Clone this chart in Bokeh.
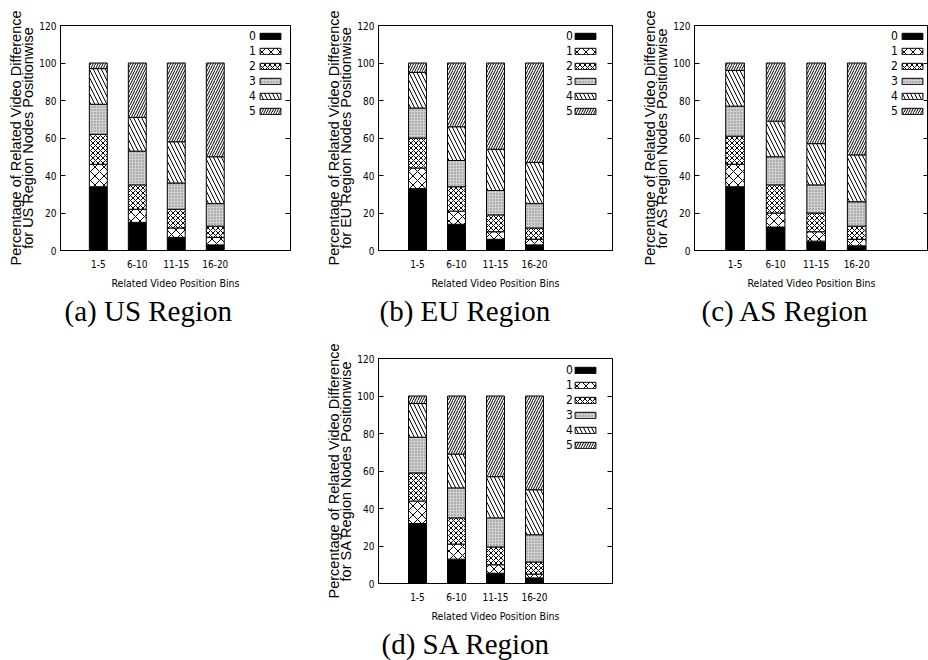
from bokeh.plotting import figure
from bokeh.models import (ColumnDataSource, Range1d, FixedTicker, LinearAxis,
                          Legend, LegendItem, Spacer, CustomJSTickFormatter)
from bokeh.layouts import column, row
from bokeh.embed import file_html
from bokeh.resources import INLINE

# ---------------- data ----------------
bins = ["1-5", "6-10", "11-15", "16-20"]
bin_pos = [0, 1, 2, 3]
diff_labels = ["0", "1", "2", "3", "4", "5"]
y_ticks = [0, 20, 40, 60, 80, 100, 120]

# percentage of related videos differing by k (k = 0..5), per position bin
us_0 = [34, 15, 7, 3]
us_1 = [12, 7, 5, 4]
us_2 = [16, 13, 10, 6]
us_3 = [16, 18, 14, 12]
us_4 = [19, 18, 22, 25]
us_5 = [3, 29, 42, 50]

eu_0 = [33, 14, 6, 3]
eu_1 = [11, 7, 4, 3]
eu_2 = [16, 13, 9, 6]
eu_3 = [16, 14, 13, 13]
eu_4 = [19, 18, 22, 22]
eu_5 = [5, 34, 46, 53]

as_0 = [34, 12.5, 5, 2.5]
as_1 = [12, 7.5, 5, 3.5]
as_2 = [15, 15, 10, 7]
as_3 = [16, 15, 15, 13]
as_4 = [19, 19, 22, 25]
as_5 = [4, 31, 43, 49]

sa_0 = [32, 13, 5.5, 3]
sa_1 = [12, 8, 4.5, 2]
sa_2 = [15, 14, 9.5, 6.5]
sa_3 = [19, 16, 15.5, 14.5]
sa_4 = [18, 18, 22, 24]
sa_5 = [4, 31, 43, 50]

# ---------------- style ----------------
NARROW = "DejaVu Sans Condensed, Liberation Sans"
SANS = "Liberation Sans"
fills = ["black", "white", "white", "#d0d0d0", "white", "white"]
hatches = [" ", "diagonal_cross", "diagonal_cross", "dot", "left_diagonal_line", "right_diagonal_line"]
hscales = [12, 9, 5, 3, 8, 5]
hweights = [1, 1, 1, 1, 1, 1]
hcolors = ["black", "black", "black", "#7a7a7a", "black", "black"]


def panel(region, values, caption, width, height, borders, x_start, x_end,
          leg_label_x, leg_glyph_x, leg_y, cap_offset):
    left, right, top, bottom = borders
    p = figure(width=width, height=height, output_backend="svg", toolbar_location=None,
               x_range=Range1d(x_start, x_end), y_range=Range1d(0, 120),
               min_border_left=left, min_border_right=right,
               min_border_top=top, min_border_bottom=bottom,
               title=caption, title_location="below")
    p.outline_line_color = "black"
    p.outline_line_width = 1
    p.grid.visible = False
    p.background_fill_color = "white"
    p.border_fill_color = "white"

    data = {"x": bin_pos}
    keys = []
    for k, v in enumerate(values):
        data["d%d" % k] = v
        keys.append("d%d" % k)
    src = ColumnDataSource(data)
    rs = p.vbar_stack(keys, x="x", width=0.46, source=src,
                      fill_color=fills, hatch_pattern=hatches, hatch_scale=hscales,
                      hatch_weight=hweights, hatch_color=hcolors,
                      line_color="black", line_width=1)

    # axes
    xa = p.xaxis[0]
    xa.ticker = FixedTicker(ticks=bin_pos)
    xa.major_label_overrides = {i: b for i, b in zip(bin_pos, bins)}
    xa.major_tick_in = 0
    xa.major_tick_out = 0
    xa.minor_tick_in = 0
    xa.minor_tick_out = 0
    xa.major_label_standoff = 9
    xa.axis_label = "Related Video Position Bins"
    xa.axis_label_text_font = NARROW
    xa.axis_label_text_font_size = "10.5px"
    xa.axis_label_text_font_style = "normal"
    xa.axis_label_text_color = "black"
    xa.axis_label_standoff = 6
    xa.major_label_text_font = NARROW
    xa.major_label_text_font_size = "10px"
    xa.major_label_text_color = "black"

    ya = p.yaxis[0]
    ya.ticker = FixedTicker(ticks=y_ticks)
    ya.major_tick_in = 5
    ya.major_tick_out = 0
    ya.minor_tick_in = 0
    ya.minor_tick_out = 0
    ya.major_label_standoff = 4
    ya.major_label_text_font = NARROW
    ya.major_label_text_font_size = "10px"
    ya.major_label_text_color = "black"
    ya.axis_label = ("Percentage of Related Video Difference\n"
                     "for %s Region Nodes Positionwise" % region)
    ya.axis_label_text_font = SANS
    ya.axis_label_text_font_size = "14.5px"
    ya.axis_label_text_font_style = "normal"
    ya.axis_label_text_color = "black"
    ya.axis_label_text_line_height = 0.8
    ya.axis_label_standoff = 0

    # mirrored inward ticks on the right edge, without labels
    ra = LinearAxis(ticker=FixedTicker(ticks=y_ticks), major_tick_in=5, major_tick_out=0,
                    minor_tick_in=0, minor_tick_out=0,
                    formatter=CustomJSTickFormatter(code="return ''"),
                    major_label_standoff=0, axis_label_standoff=0,
                    axis_line_color="black")
    p.add_layout(ra, "right")

    # key: labels on the left, sample boxes on the right
    dummy = p.vbar(x=[], top=[], width=0.1, fill_alpha=0, line_alpha=0)
    common = dict(glyph_height=8, label_height=15, label_width=0, spacing=0,
                  padding=0, margin=0, border_line_alpha=0, background_fill_alpha=0,
                  label_text_font=NARROW, label_text_font_size="12px",
                  label_text_color="black")
    leg_labels = Legend(items=[LegendItem(label=l, renderers=[dummy]) for l in diff_labels],
                        location=(leg_label_x, leg_y), glyph_width=0, label_standoff=0,
                        **common)
    leg_boxes = Legend(items=[LegendItem(label=" ", renderers=[r]) for r in rs],
                       location=(leg_glyph_x, leg_y), glyph_width=26, label_standoff=0,
                       **common)
    p.add_layout(leg_labels)
    p.add_layout(leg_boxes)

    p.title.text_font = "Liberation Serif"
    p.title.text_font_size = "29px"
    p.title.text_font_style = "normal"
    p.title.text_color = "black"
    p.title.align = "left"
    p.title.offset = cap_offset
    p.title.standoff = 2
    return p


pa = panel("US", [us_0, us_1, us_2, us_3, us_4, us_5], "(a) US Region",
           318, 330, (60, 28, 25, 80), -0.97, 4.93, 189, 197, 132, 4)
pb = panel("EU", [eu_0, eu_1, eu_2, eu_3, eu_4, eu_5], "(b) EU Region",
           316, 330, (60, 22, 25, 80), -1.0, 5.0, 188, 194, 132, 1)
pc = panel("AS", [as_0, as_1, as_2, as_3, as_4, as_5], "(c) AS Region",
           294, 330, (60, 0, 25, 80), -1.0, 4.77, 197, 205, 132, 7)
pd = panel("SA", [sa_0, sa_1, sa_2, sa_3, sa_4, sa_5], "(d) SA Region",
           316, 330, (60, 22, 28, 77), -1.0, 5.0, 188, 194, 131, 3)

layout = column(row(pa, pb, pc), row(Spacer(width=318, height=330), pd))

open("out.html", "w").write(file_html(layout, INLINE))
